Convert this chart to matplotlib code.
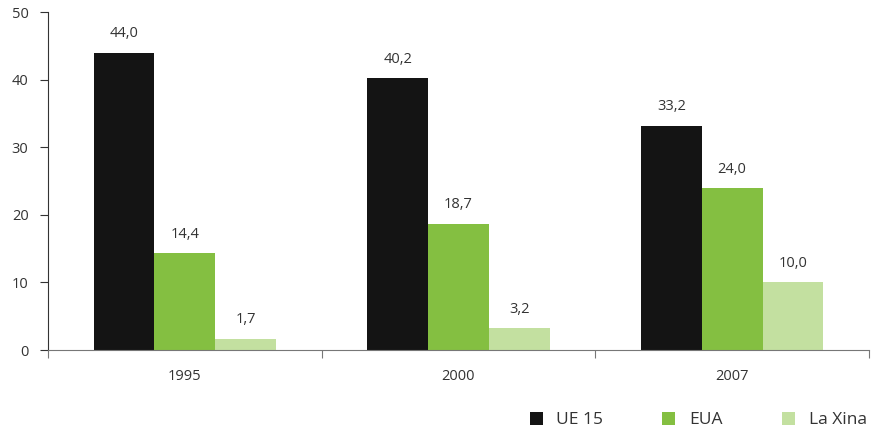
import matplotlib.pyplot as plt
import numpy as np

years = ['1995', '2000', '2007']
series = ['UE 15', 'EUA', 'La Xina']
ue15 = [44.0, 40.2, 33.2]
eua = [14.4, 18.7, 24.0]
xina = [1.7, 3.2, 10.0]
colors = ['#141414', '#84bf41', '#c3e0a0']

plt.rcParams['font.family'] = ['Open Sans', 'DejaVu Sans']

fig = plt.figure(figsize=(8.72, 4.28), dpi=100)
ax = fig.add_axes([48/872, 1-350/428, (869-48)/872, (350-12)/428])

x = np.arange(len(years))
w = 0.222
for i, (vals, name) in enumerate(zip([ue15, eua, xina], series)):
    pos = x + (i - 1) * w
    ax.bar(pos, vals, w, color=colors[i], label=name)
    for p, v in zip(pos, vals):
        ax.annotate(f'{v:.1f}'.replace('.', ','), (p, v), xytext=(0, 8),
                    textcoords='offset points', ha='center', va='bottom',
                    fontsize=10.5, color='#333333')

ax.set_xlim(-0.5, 2.5)
ax.set_ylim(0, 50)
ax.set_yticks(range(0, 51, 10))
ax.set_xticks([-0.5, 0.5, 1.5, 2.5])
ax.set_xticklabels([])
ax.set_xticks(x, minor=True)
ax.set_xticklabels(years, minor=True)
ax.tick_params(axis='x', which='minor', length=0, pad=14, labelsize=10.5, labelcolor='#333333')
ax.tick_params(axis='x', which='major', length=6, color='#777777', direction='out')
ax.tick_params(axis='y', length=6, labelsize=10.5, labelcolor='#333333', color='#333333', pad=8)
for s in ['top', 'right']:
    ax.spines[s].set_visible(False)
ax.spines['bottom'].set_color('#777777')
ax.spines['left'].set_color('#333333')

fig.legend(loc='center right', bbox_to_anchor=(1.004, 8/428), ncol=3, frameon=False,
           fontsize=12.5, handlelength=0.75, handleheight=0.75, columnspacing=3.4,
           handletextpad=0.8, labelcolor='#333333', borderpad=0)

fig.savefig('out.png', dpi=100)
